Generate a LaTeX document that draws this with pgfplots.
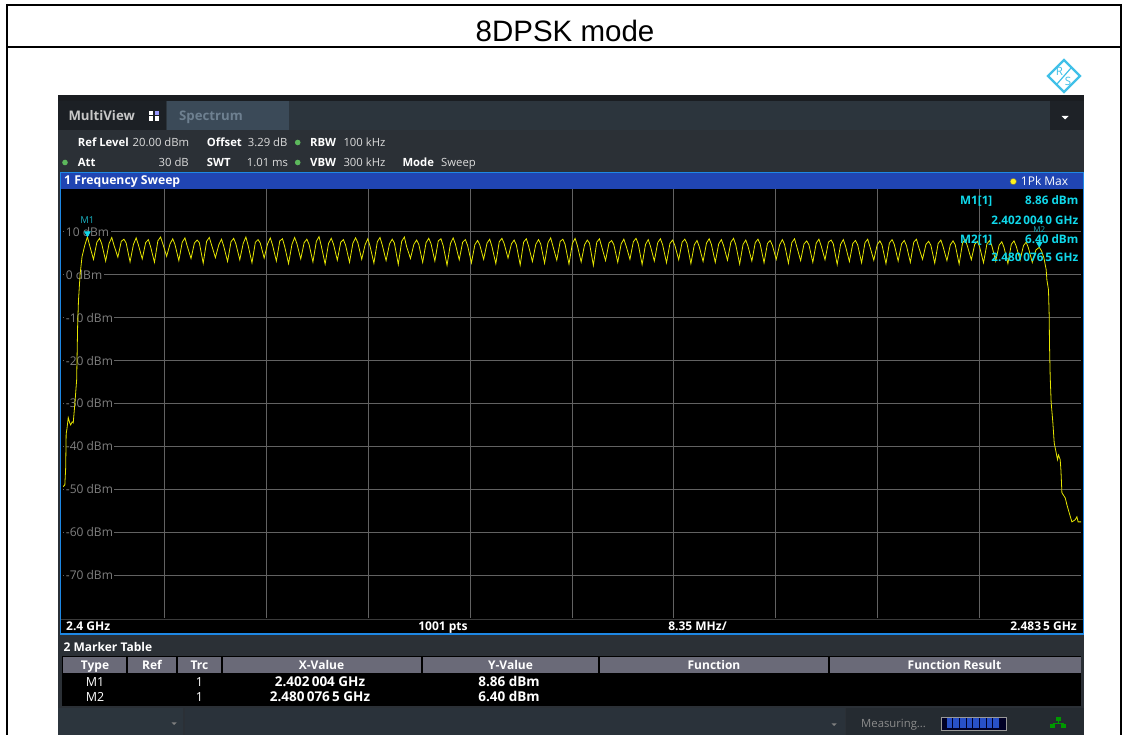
\documentclass[border=0pt]{standalone}
\usepackage{pgfplots}
\pgfplotsset{compat=1.18}
\usepackage{fontspec}
\setmainfont{Liberation Sans}
\newfontfamily\ui{Open Sans}
\newcommand{\fs}[1]{\fontsize{#1}{#1}\selectfont}
\definecolor{scrbg}{HTML}{2B3036}
\definecolor{topstrip}{HTML}{1A1D21}
\definecolor{tabdark}{HTML}{1C2025}
\definecolor{tabspec}{HTML}{3B4A58}
\definecolor{tabtext}{HTML}{6E8090}
\definecolor{barbg}{HTML}{2C353D}
\definecolor{titleblue}{HTML}{2045B2}
\definecolor{frameblue}{HTML}{1E88E5}
\definecolor{gridgray}{HTML}{626262}
\definecolor{lblgray}{HTML}{808080}
\definecolor{tracey}{HTML}{E6E600}
\definecolor{mcyan}{HTML}{10D8EA}
\definecolor{mteal}{HTML}{1AAFBF}
\definecolor{hdrgray}{HTML}{6A6A78}
\definecolor{dotgreen}{HTML}{5CB85C}
\definecolor{statbg}{HTML}{2A323A}
\definecolor{statright}{HTML}{252B31}
\definecolor{rscyan}{HTML}{40C0E8}
\definecolor{valgray}{HTML}{DCDCDC}
\definecolor{progblue}{HTML}{2850C8}
\begin{document}
\begin{tikzpicture}
\useasboundingbox (0,0) rectangle (1131pt,735pt);
\begin{scope}[x=1pt,y=-1pt,yshift=735pt,
  lbl/.style={anchor=base west,text=white,font=\ui\bfseries\fs{11.3},inner sep=0pt},
  val/.style={anchor=base west,text=valgray,font=\ui\fs{11.3},inner sep=0pt}]
 \fill[white] (0,0) rectangle (1131,735);
 % table frame
 \draw[line width=2pt] (7,5) -- (1121,5);
 \draw[line width=2pt] (7,4) -- (7,736);
 \draw[line width=2pt] (1121,4) -- (1121,736);
 \draw[line width=2pt] (7,47) -- (1121,47);
 \node[font=\fs{29.5}] at (565,31) {8DPSK mode};
 % R&S logo
 \draw[rscyan,line width=2.4pt,line join=miter] (1064,60) -- (1080,76) -- (1064,92) -- (1048,76) -- cycle;
 \draw[rscyan,line width=1.2pt] (1057,84) -- (1071,68);
 \node[text=rscyan,font=\ui\fs{11.5}] at (1059.5,71) {R};
 \node[text=rscyan,font=\ui\fs{11.5}] at (1068,81) {S};
 % screen
 \fill[scrbg] (58,95) rectangle (1084,735);
 \fill[topstrip] (58,95) rectangle (1084,101.5);
 \fill[barbg] (58,101.5) rectangle (1084,130);
 \fill[tabdark] (58,101.5) rectangle (165.5,130);
 \fill[tabspec] (166.5,101.5) rectangle (288.5,130);
 \fill[topstrip!80!barbg] (1050,101.5) rectangle (1084,130);
 \fill[white] (1061.5,116) -- (1068.5,116) -- (1065,119.5) -- cycle;
 \node[anchor=base west,text=white!78!black,font=\ui\bfseries\fs{13.2},inner sep=0pt] at (68.3,121) {MultiView};
 \fill[white] (149,111) rectangle (153.3,115.3);
 \fill[white!60!blue] (154.5,111) rectangle (158.8,115.3);
 \fill[white] (149,116.5) rectangle (153.3,120.8);
 \fill[white] (154.5,116.5) rectangle (158.8,120.8);
 \node[anchor=base west,text=tabtext,font=\ui\bfseries\fs{13.2},inner sep=0pt] at (179,121) {Spectrum};
 % info rows
 \node[lbl] at (77.7,146.5) {Ref Level};
 \node[val] at (132.5,146.5) {20.00 dBm};
 \node[lbl] at (206.7,146.5) {Offset};
 \node[val] at (247.7,146.5) {3.29 dB};
 \fill[dotgreen] (297.7,142.5) circle (2.8);
 \node[lbl] at (310,146.5) {RBW};
 \node[val] at (343.3,146.5) {100 kHz};
 \fill[dotgreen] (65,162.5) circle (2.8);
 \node[lbl] at (77.7,166.5) {Att};
 \node[val,anchor=base east] at (189,166.5) {30 dB};
 \node[lbl] at (206.7,166.5) {SWT};
 \node[val] at (246.7,166.5) {1.01 ms};
 \fill[dotgreen] (297.7,162.5) circle (2.8);
 \node[lbl] at (310,166.5) {VBW};
 \node[val] at (343.3,166.5) {300 kHz};
 \node[lbl] at (402.3,166.5) {Mode};
 \node[val] at (441,166.5) {Sweep};
 % plot area frame and title bar
 \fill[black] (61,189) rectangle (1083,634);
 \fill[titleblue] (61,172.5) rectangle (1083,189);
 \node[anchor=base west,text=white,font=\ui\bfseries\fs{12.2},inner sep=0pt] at (64,185) {1 Frequency Sweep};
 \fill[yellow!90!white,draw=black!60,line width=0.5pt] (1013.3,181.5) circle (3.2);
 \node[anchor=base west,text=white,font=\ui\fs{12},inner sep=0pt] at (1020.7,186) {1Pk Max};
 \draw[gridgray!60!black,line width=0.8pt] (61,619) -- (1083,619);
 \node[anchor=base west,text=white,font=\ui\bfseries\fs{12},inner sep=0pt] at (66,630.5) {2.4 GHz};
 \node[anchor=base,text=white,font=\ui\bfseries\fs{12},inner sep=0pt] at (443,630.5) {1001 pts};
 \node[anchor=base,text=white,font=\ui\bfseries\fs{12},inner sep=0pt] at (697.5,630.5) {8.35 MHz/};
 \node[anchor=base east,text=white,font=\ui\bfseries\fs{12},inner sep=0pt] at (1077,630.5) {2.483\,5 GHz};
 % marker table
 \node[anchor=base west,text=white,font=\ui\bfseries\fs{12},inner sep=0pt] at (63.5,651.5) {2 Marker Table};
 \fill[black] (61.5,656) rectangle (1081,706.5);
 \fill[hdrgray] (62.5,657) rectangle (1080.5,673.5);
 \foreach \cx in {127,177,222,422,599,829} {\draw[black,line width=1.3pt] (\cx,656.5) -- (\cx,674);}
 \foreach \tx/\tt in {95/Type,152/Ref,199.5/Trc,321.5/X-Value,510.5/Y-Value,714/Function,954.5/Function Result}
   {\node[anchor=base,text=white,font=\ui\bfseries\fs{12},inner sep=0pt] at (\tx,669.5) {\tt};}
 \node[anchor=base,text=white,font=\ui\fs{12.5},inner sep=0pt] at (95,687) {M1};
 \node[anchor=base,text=white,font=\ui\fs{12.5},inner sep=0pt] at (95,702) {M2};
 \node[anchor=base,text=white,font=\ui\fs{12.5},inner sep=0pt] at (199.5,687) {1};
 \node[anchor=base,text=white,font=\ui\fs{12.5},inner sep=0pt] at (199.5,702) {1};
 \node[anchor=base,text=white,font=\ui\bfseries\fs{13.5},inner sep=0pt] at (320,686.5) {2.402\,004 GHz};
 \node[anchor=base,text=white,font=\ui\bfseries\fs{13.5},inner sep=0pt] at (320,701.5) {2.480\,076\,5 GHz};
 \node[anchor=base,text=white,font=\ui\bfseries\fs{13.5},inner sep=0pt] at (509,686.5) {8.86 dBm};
 \node[anchor=base,text=white,font=\ui\bfseries\fs{13.5},inner sep=0pt] at (509,701.5) {6.40 dBm};
 % status bar
 \fill[barbg] (58,708.5) rectangle (183,735);
 \fill[statbg] (185,708.5) rectangle (845,735);
 \fill[statright] (846,708.5) rectangle (1084,735);
 \fill[gray] (171.5,722.5) -- (176.5,722.5) -- (174,725) -- cycle;
 \fill[gray] (831.5,723.5) -- (836.5,723.5) -- (834,726) -- cycle;
 \node[anchor=base west,text=white!55!black,font=\ui\fs{11.3},inner sep=0pt] at (861,727.5) {Measuring...};
 \fill[black!85!blue] (941.5,717) rectangle (1006,730);
 \draw[gray!80,line width=0.7pt] (941.5,717) rectangle (1006,730);
 \foreach \k in {0,...,7} {\fill[progblue] (946.5+6.7*\k,718.5) rectangle (952.2+6.7*\k,728.5);}
 \fill[green!60!black] (1055.5,717.5) rectangle (1060.5,721.5);
 \draw[green!60!black,line width=1pt] (1058,721.5) -- (1058,724) (1052.5,724) -- (1063.5,724);
 \fill[green!60!black] (1050,724.5) rectangle (1055,728.5);
 \fill[green!60!black] (1061,724.5) rectangle (1066,728.5);
\end{scope}
\begin{axis}[
  at={(63pt,117pt)}, anchor=south west,
  width=1018pt, height=429pt, scale only axis,
  xmin=2400, xmax=2483.5, ymin=-80, ymax=20,
  axis line style={draw=none},
  xtick={2408.35,2416.7,2425.05,2433.4,2441.75,2450.1,2458.45,2466.8,2475.15},
  ytick={-70,-60,-50,-40,-30,-20,-10,0,10},
  xticklabels={}, yticklabels={},
  major tick length=0pt,
  grid=major,
  major grid style={draw=gridgray, line width=0.9pt},
]
\foreach \v/\t in {10/10 dBm,0/0 dBm,-10/-10 dBm,-20/-20 dBm,-30/-30 dBm,-40/-40 dBm,-50/-50 dBm,-60/-60 dBm,-70/-70 dBm}
 {\edef\temp{\noexpand\node[anchor=west,text=lblgray,font=\noexpand\ui\noexpand\fs{12},fill=black,inner sep=1.5pt] at (axis cs:2400.1,\v) {\t};}\temp}
\addplot[tracey, line width=0.8pt] coordinates {
(2400.00,-49.4) (2400.15,-49.0) (2400.22,-45.0) (2400.26,-37.0) (2400.32,-36.0) (2400.43,-33.3) (2400.55,-34.5) (2400.63,-35.0) (2400.75,-34.3) (2400.84,-34.5) (2400.98,-29.8) (2401.12,-24.5) (2401.20,-12.0) (2401.27,-6.0) (2401.40,0.0) (2401.56,4.2) (2401.78,6.8)
(2402.004,8.86) (2402.18,6.9) (2402.50,3.6)
(2402.78,7.6) (2403.00,8.5) (2403.18,7.2) (2403.50,3.2)
(2403.78,7.3) (2404.00,8.7) (2404.18,6.9) (2404.50,4.1)
(2404.78,7.8) (2405.00,8.3) (2405.18,7.4) (2405.50,3.0)
(2405.78,7.1) (2406.00,8.6) (2406.18,7.0) (2406.50,3.7)
(2406.78,7.5) (2407.00,8.2) (2407.18,6.6) (2407.50,2.9)
(2407.78,7.9) (2408.00,8.8) (2408.18,7.3) (2408.50,4.3)
(2408.78,7.2) (2409.00,8.4) (2409.18,7.1) (2409.50,3.3)
(2409.78,7.6) (2410.00,8.6) (2410.18,6.8) (2410.50,3.8)
(2410.78,7.4) (2411.00,8.1) (2411.18,7.5) (2411.50,2.7)
(2411.78,7.8) (2412.00,8.7) (2412.18,7.0) (2412.50,4.0)
(2412.78,7.0) (2413.00,8.3) (2413.18,6.7) (2413.50,3.1)
(2413.78,7.7) (2414.00,8.5) (2414.18,7.2) (2414.50,3.5)
(2414.78,7.3) (2415.00,8.8) (2415.18,6.9) (2415.50,2.8)
(2415.78,7.6) (2416.00,8.2) (2416.18,7.4) (2416.50,3.9)
(2416.78,7.2) (2417.00,8.6) (2417.18,7.0) (2417.50,3.2)
(2417.78,7.9) (2418.00,8.4) (2418.18,6.6) (2418.50,2.6)
(2418.78,7.1) (2419.00,8.7) (2419.18,7.3) (2419.50,3.7)
(2419.78,7.5) (2420.00,8.3) (2420.18,7.1) (2420.50,3.0)
(2420.78,7.8) (2421.00,8.9) (2421.18,6.8) (2421.50,2.5)
(2421.78,7.3) (2422.00,8.5) (2422.18,7.2) (2422.50,3.4)
(2422.78,7.6) (2423.00,8.2) (2423.18,6.9) (2423.50,2.9)
(2423.78,7.4) (2424.00,8.6) (2424.18,7.5) (2424.50,3.6)
(2424.78,7.0) (2425.00,8.4) (2425.18,6.7) (2425.50,2.7)
(2425.78,7.7) (2426.00,8.7) (2426.18,7.0) (2426.50,3.3)
(2426.78,7.2) (2427.00,8.3) (2427.18,7.4) (2427.50,2.4)
(2427.78,7.8) (2428.00,8.8) (2428.18,6.6) (2428.50,3.8)
(2428.78,7.1) (2429.00,8.1) (2429.18,7.1) (2429.50,2.9)
(2429.78,7.5) (2430.00,8.5) (2430.18,7.3) (2430.50,3.2)
(2430.78,7.9) (2431.00,8.4) (2431.18,6.8) (2431.50,2.2)
(2431.78,7.3) (2432.00,8.6) (2432.18,7.2) (2432.50,3.5)
(2432.78,7.6) (2433.00,8.2) (2433.18,6.9) (2433.50,2.8)
(2433.78,7.0) (2434.00,8.0) (2434.18,7.0) (2434.50,3.6)
(2434.78,7.4) (2435.00,8.3) (2435.18,6.6) (2435.50,2.6)
(2435.78,7.7) (2436.00,8.5) (2436.18,7.3) (2436.50,3.9)
(2436.78,7.2) (2437.00,8.1) (2437.18,7.0) (2437.50,2.3)
(2437.78,7.6) (2438.00,8.4) (2438.18,6.8) (2438.50,3.1)
(2438.78,7.1) (2439.00,8.2) (2439.18,7.2) (2439.50,2.7)
(2439.78,7.5) (2440.00,8.6) (2440.18,6.7) (2440.50,3.4)
(2440.78,7.8) (2441.00,8.3) (2441.18,7.1) (2441.50,2.5)
(2441.78,7.3) (2442.00,8.5) (2442.18,6.9) (2442.50,3.0)
(2442.78,7.0) (2443.00,8.1) (2443.18,7.4) (2443.50,2.2)
(2443.78,7.6) (2444.00,8.4) (2444.18,6.6) (2444.50,3.3)
(2444.78,7.4) (2445.00,8.0) (2445.18,7.0) (2445.50,2.9)
(2445.78,7.2) (2446.00,8.3) (2446.18,6.8) (2446.50,3.6)
(2446.78,7.7) (2447.00,8.5) (2447.18,7.2) (2447.50,2.4)
(2447.78,7.1) (2448.00,8.2) (2448.18,6.7) (2448.50,3.2)
(2448.78,7.5) (2449.00,8.4) (2449.18,7.0) (2449.50,2.8)
(2449.78,7.3) (2450.00,8.1) (2450.18,6.9) (2450.50,3.5)
(2450.78,7.6) (2451.00,8.3) (2451.18,7.3) (2451.50,2.6)
(2451.78,7.0) (2452.00,8.0) (2452.18,6.6) (2452.50,3.1)
(2452.78,7.4) (2453.00,8.4) (2453.18,7.1) (2453.50,2.9)
(2453.78,7.2) (2454.00,8.2) (2454.18,6.8) (2454.50,3.4)
(2454.78,7.6) (2455.00,8.5) (2455.18,7.0) (2455.50,2.5)
(2455.78,7.1) (2456.00,8.1) (2456.18,6.7) (2456.50,3.2)
(2456.78,7.5) (2457.00,8.3) (2457.18,7.2) (2457.50,2.8)
(2457.78,7.3) (2458.00,8.0) (2458.18,6.9) (2458.50,3.6)
(2458.78,7.0) (2459.00,8.2) (2459.18,7.1) (2459.50,2.7)
(2459.78,7.5) (2460.00,8.4) (2460.18,6.6) (2460.50,3.3)
(2460.78,7.2) (2461.00,7.9) (2461.18,7.0) (2461.50,2.9)
(2461.78,7.4) (2462.00,8.3) (2462.18,6.8) (2462.50,3.5)
(2462.78,7.6) (2463.00,8.1) (2463.18,7.2) (2463.50,2.4)
(2463.78,7.1) (2464.00,8.2) (2464.18,6.7) (2464.50,3.1)
(2464.78,7.3) (2465.00,8.0) (2465.18,7.0) (2465.50,2.8)
(2465.78,7.5) (2466.00,8.3) (2466.18,6.6) (2466.50,3.4)
(2466.78,7.0) (2467.00,7.9) (2467.18,6.9) (2467.50,2.6)
(2467.78,7.4) (2468.00,8.2) (2468.18,7.1) (2468.50,3.2)
(2468.78,7.2) (2469.00,8.0) (2469.18,6.8) (2469.50,2.9)
(2469.78,7.6) (2470.00,8.3) (2470.18,6.5) (2470.50,3.6)
(2470.78,7.1) (2471.00,7.8) (2471.18,6.9) (2471.50,2.7)
(2471.78,7.3) (2472.00,8.1) (2472.18,6.6) (2472.50,3.3)
(2472.78,7.0) (2473.00,7.9) (2473.18,7.0) (2473.50,2.5)
(2473.78,7.4) (2474.00,8.2) (2474.18,6.7) (2474.50,3.5)
(2474.78,7.1) (2475.00,7.8) (2475.18,6.5) (2475.50,2.8)
(2475.78,7.2) (2476.00,8.0) (2476.18,6.8) (2476.50,3.2)
(2476.78,6.9) (2477.00,7.7) (2477.18,6.4) (2477.50,2.6)
(2477.78,7.1) (2478.00,7.9) (2478.18,6.7) (2478.50,3.4)
(2478.78,6.8) (2479.00,7.6) (2479.18,6.3) (2479.50,2.9)
(2479.80,5.8) (2480.0765,6.40) (2480.25,5.6) (2480.45,4.0)
(2480.64,1.2) (2480.70,-1.2) (2480.83,-3.5) (2480.89,-9.8) (2480.91,-15.9) (2480.97,-23.8) (2481.05,-29.8) (2481.19,-34.5) (2481.30,-39.2) (2481.46,-41.5) (2481.57,-43.1) (2481.65,-42.0) (2481.79,-43.1) (2481.85,-45.5) (2481.93,-50.8) (2482.20,-52.0) (2482.34,-53.6) (2482.53,-55.5) (2482.75,-57.6) (2483.02,-57.1) (2483.16,-56.4) (2483.26,-57.6) (2483.50,-57.6)
};
\addplot[only marks, mark=triangle*, mark size=3.4pt, mark options={yshift=3.4pt, rotate=180, fill=mcyan, draw=mcyan}] coordinates {(2402.004,8.86) (2480.0765,6.40)};
\node[text=mteal, font=\ui\fs{9.5}, inner sep=0pt] at (axis cs:2402.0,12.8) {M1};
\node[text=mteal, font=\ui\fs{8}, inner sep=0pt] at (axis cs:2480.08,10.6) {M2};
\end{axis}
\begin{scope}[x=1pt,y=-1pt,yshift=735pt,
  mk/.style={text=mcyan,font=\ui\bfseries\fs{11.7},inner sep=0pt}]
 \draw[frameblue,line width=1.8pt] (60.5,172.5) rectangle (1083.5,634);
 \node[mk,anchor=base west] at (960,205) {M1[1]};
 \node[mk,anchor=base east] at (1078.5,205) {8.86 dBm};
 \node[mk,anchor=base east] at (1078.5,224.5) {2.402\,004\,0 GHz};
 \node[mk,anchor=base west] at (960,243.5) {M2[1]};
 \node[mk,anchor=base east] at (1078.5,243.5) {6.40 dBm};
 \node[mk,anchor=base east] at (1078.5,262) {2.480\,076\,5 GHz};
\end{scope}
\end{tikzpicture}
\end{document}
